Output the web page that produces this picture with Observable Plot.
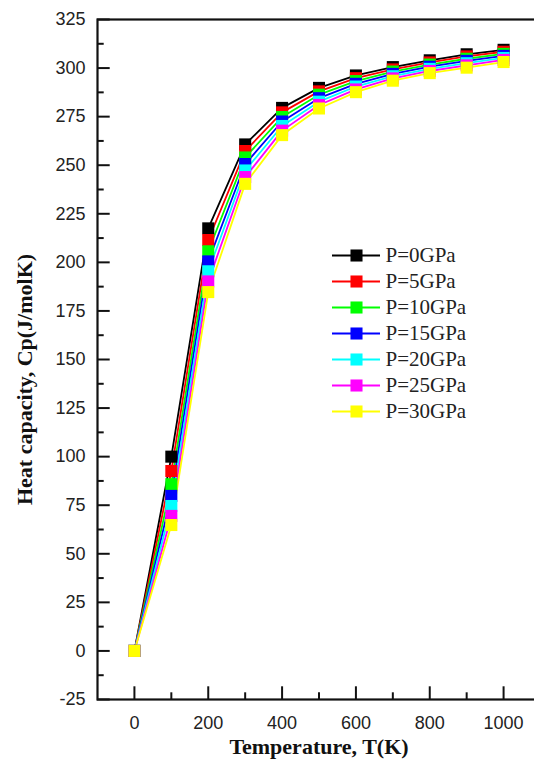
<!DOCTYPE html>
<html><head><meta charset="utf-8">
<script src="https://cdn.jsdelivr.net/npm/d3@7"></script>
<script src="https://cdn.jsdelivr.net/npm/@observablehq/plot@0.6"></script>
<style>
html,body{margin:0;padding:0;background:#fff;overflow:hidden;}
#wrap{position:relative;width:534px;height:759px;overflow:hidden;background:#fff;}
#legend{position:absolute;left:332px;top:242px;}
</style></head><body><div id="wrap"><div id="legend"></div></div>
<script>
// ---- data ----
const temperatures = [0, 100, 200, 300, 400, 500, 600, 700, 800, 900, 1000];
const seriesNames = ["P=0GPa", "P=5GPa", "P=10GPa", "P=15GPa", "P=20GPa", "P=25GPa", "P=30GPa"];
const seriesColors = ["#000000", "#ff0000", "#00ff00", "#0000ff", "#00ffff", "#ff00ff", "#ffff00"];
const p0  = [0, 100.0, 217.5, 260.7, 279.5, 289.8, 296.2, 300.5, 304.0, 307.1, 309.4];
const p5  = [0,  92.6, 211.5, 257.3, 277.2, 288.0, 294.8, 299.3, 302.9, 306.0, 308.4];
const p10 = [0,  85.8, 205.7, 254.0, 274.8, 286.3, 293.3, 298.2, 301.8, 304.8, 307.3];
const p15 = [0,  79.8, 200.5, 250.6, 272.5, 284.5, 291.9, 297.0, 300.7, 303.7, 306.3];
const p20 = [0,  74.6, 195.4, 247.3, 270.2, 282.7, 290.5, 295.8, 299.6, 302.5, 305.2];
const p25 = [0,  69.5, 190.2, 243.9, 267.8, 281.0, 289.0, 294.7, 298.5, 301.4, 304.2];
const p30 = [0,  64.8, 184.7, 240.4, 265.5, 279.2, 287.6, 293.5, 297.4, 300.2, 303.1];
const yMajorTicks = [-25, 0, 25, 50, 75, 100, 125, 150, 175, 200, 225, 250, 275, 300, 325];
const yMinorTicks = [-12.5, 12.5, 37.5, 62.5, 87.5, 112.5, 137.5, 162.5, 187.5, 212.5, 237.5, 262.5, 287.5, 312.5];
const xMajorTicks = [0, 200, 400, 600, 800, 1000];
const xMinorTicks = [100, 300, 500, 700, 900];
const xTitle = "Temperature, T(K)";
const yTitle = "Heat capacity, Cp(J/molK)";

const seriesValues = [p0, p5, p10, p15, p20, p25, p30];
const rows = [];
seriesNames.forEach((name, s) => {
  temperatures.forEach((t, i) => rows.push({series: name, T: t, Cp: seriesValues[s][i]}));
});

const serif = "'Liberation Serif', 'Times New Roman', serif";

const chart = Plot.plot({
  width: 541, height: 759,
  marginLeft: 97, marginRight: 1, marginTop: 19, marginBottom: 60,
  style: {fontFamily: "'Liberation Sans', Arial, sans-serif", fontSize: "18px", background: "white", maxWidth: "none", color: "#222"},
  x: {domain: [-100, 1100]},
  y: {domain: [-25, 325]},
  color: {domain: seriesNames, range: seriesColors},
  marks: [
    Plot.line(rows, {x: "T", y: "Cp", z: "series", stroke: "series", strokeWidth: 1.8}),
    Plot.dot(rows, {x: "T", y: "Cp", fill: "series", symbol: "square", r: 6.8}),
    Plot.axisY(yMinorTicks, {tickSize: -6.7, fill: "none", stroke: "#111", strokeWidth: 2, label: null}),
    Plot.axisY(yMajorTicks, {tickSize: -12.7, tickPadding: 24.7, stroke: "#111", strokeWidth: 2, label: null, tickFormat: d => String(d)}),
    Plot.axisX(xMinorTicks, {tickSize: -6.7, fill: "none", stroke: "#111", strokeWidth: 2, label: null}),
    Plot.axisX(xMajorTicks, {tickSize: -12.7, tickPadding: 29.5, stroke: "#111", strokeWidth: 2, label: null, tickFormat: d => String(d)}),
    Plot.frame({stroke: "#111", strokeWidth: 2.2}),
    Plot.text([xTitle], {text: d => d, frameAnchor: "bottom", textAnchor: "middle", lineAnchor: "middle", dy: 47, fontFamily: serif, fontWeight: "bold", fontSize: 22, fill: "#111"}),
    Plot.text([yTitle], {text: d => d, frameAnchor: "left", rotate: -90, textAnchor: "middle", lineAnchor: "middle", dx: -73, dy: 20, fontFamily: serif, fontWeight: "bold", fontSize: 22, fill: "#111"})
  ]
});
document.getElementById("wrap").insertBefore(chart, document.getElementById("legend"));

const legend = Plot.plot({
  width: 140, height: 182,
  marginLeft: 0, marginRight: 92, marginTop: 0, marginBottom: 0,
  style: {fontFamily: serif, fontSize: "21px", background: "transparent", overflow: "visible", maxWidth: "none"},
  x: {domain: [0, 1], axis: null},
  y: {type: "point", domain: seriesNames, padding: 0.5, axis: null},
  color: {domain: seriesNames, range: seriesColors},
  marks: [
    Plot.ruleY(seriesNames, {y: d => d, x1: 0, x2: 1, stroke: d => d, strokeWidth: 2}),
    Plot.dot(seriesNames, {x: 0.5, y: d => d, fill: d => d, symbol: "square", r: 6.8}),
    Plot.text(seriesNames, {x: 1, y: d => d, text: d => d, textAnchor: "start", dx: 5, fill: "#222"})
  ]
});
document.getElementById("legend").appendChild(legend);
</script>
</body></html>
